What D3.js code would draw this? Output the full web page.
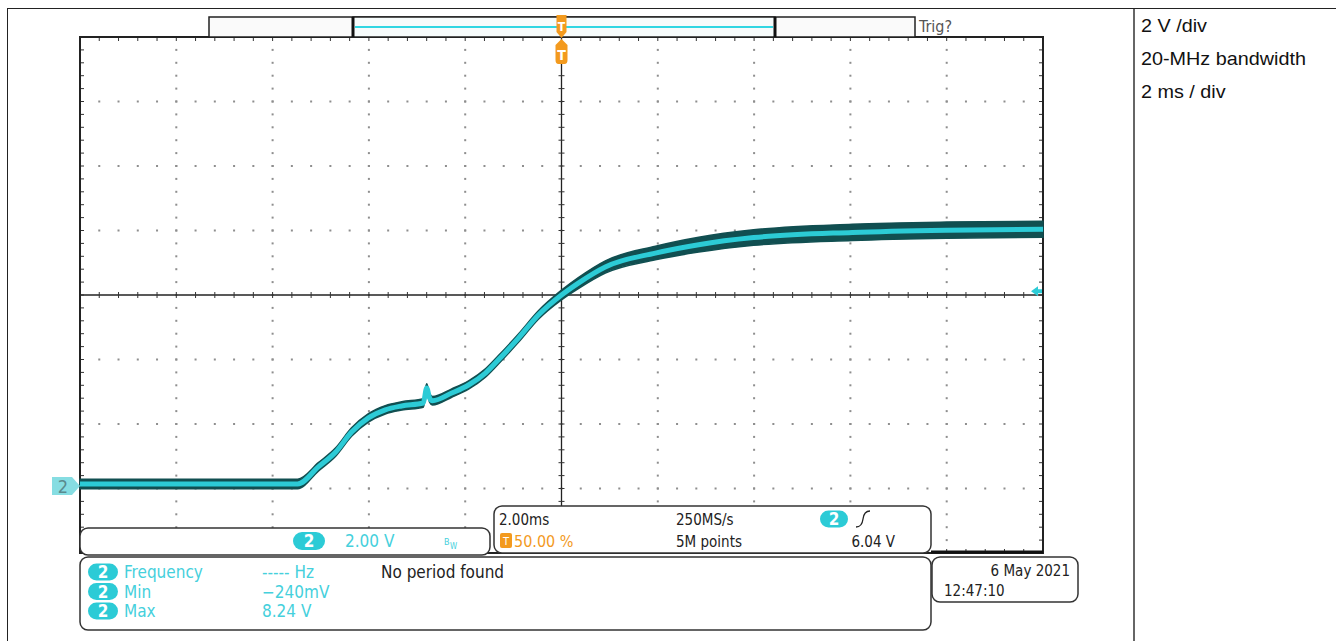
<!DOCTYPE html>
<html>
<head>
<meta charset="utf-8">
<script src="https://cdn.jsdelivr.net/npm/d3@7"></script>
<style>
  html, body { margin: 0; padding: 0; background: #fff; }
  svg { display: block; }
  .scope { font-family: "DejaVu Sans Condensed", "DejaVu Sans", sans-serif; }
  .note { font-family: "Liberation Sans", Arial, sans-serif; }
</style>
</head>
<body>
<svg id="chart" width="1336" height="641"></svg>
<script>
// ---- Captured waveform, channel 2 (time in ms relative to trigger, volts) ----
const timeMs = [-10.0, -8.0, -6.0, -5.48, -5.05, -4.69, -4.36, -4.01, -3.66, -3.32, -2.87,
                -2.80, -2.74, -2.68, -2.28, -1.93, -1.58, -1.31, -0.89, -0.48, 0.0, 0.35,
                0.91, 1.95, 2.85, 3.99, 6.04, 8.0, 10.0];
const volts  = [0.06, 0.06, 0.06, 0.06, 0.59, 1.05, 1.67, 2.11, 2.36, 2.48, 2.57,
                3.04, 2.73, 2.64, 2.88, 3.13, 3.50, 3.91, 4.59, 5.30, 5.92, 6.29,
                6.79, 7.22, 7.48, 7.70, 7.86, 7.93, 7.96];
// half-width of the noise envelope around the trace (V)
const noiseSpread = [0.15, 0.15, 0.15, 0.15, 0.13, 0.13, 0.13, 0.13, 0.13, 0.13, 0.13,
                     0.13, 0.13, 0.13, 0.13, 0.13, 0.13, 0.13, 0.13, 0.13, 0.15, 0.17,
                     0.19, 0.21, 0.23, 0.24, 0.25, 0.25, 0.25];

// ---- Display settings ----
const timeDomain = [-10, 10];          // 2 ms/div, 10 divisions
const voltDomain = [-2.08, 13.92];     // 2 V/div, 8 divisions, ground 2.96 div below centre
const triggerLevel = 6.04;

// ---- Readout texts ----
const settingsNotes = ["2 V /div", "20-MHz bandwidth", "2 ms / div"];
const measureNames  = ["Frequency", "Min", "Max"];
const measureValues = ["----- Hz", "\u2212240mV", "8.24 V"];
const measureStatus = ["No period found", "", ""];
const horizReadout  = ["2.00ms", "50.00 %"];
const acqReadout    = ["250MS/s", "5M points"];
const trigReadout   = ["6.04 V"];
const chanReadout   = ["2.00 V"];
const dateReadout   = ["6 May  2021", "12:47:10"];

const CYAN = "#2ccbd6", CYAN_TXT = "#45d0dc", DARK_TEAL = "#114f51", ORANGE = "#f39a1e";

const svg = d3.select("#chart");

// page frame and divider
svg.append("rect").attr("x", 7.5).attr("y", 8.5).attr("width", 1340).attr("height", 640)
  .attr("fill", "none").attr("stroke", "#222").attr("stroke-width", 1);
svg.append("line").attr("x1", 1134).attr("x2", 1134).attr("y1", 9).attr("y2", 641)
  .attr("stroke", "#666").attr("stroke-width", 2);

// notes on the right
svg.append("g").attr("class", "note").selectAll("text").data(settingsNotes).join("text")
  .attr("x", 1141).attr("y", (d, i) => 32 + i * 33)
  .attr("font-size", 18).attr("fill", "#111")
  .attr("transform", "translate(-114.1,0) scale(1.1,1)")
  .text(d => d);

// ---- Plot area ----
const L = 80, R = 1043, T = 37, B = 553;
const x = d3.scaleLinear().domain(timeDomain).range([L, R]);
const y = d3.scaleLinear().domain(voltDomain).range([B, T]);

const g = svg.append("g");

const majorT = d3.range(timeDomain[0], timeDomain[1] + 0.001, 2);
const minorT = d3.range(0, 51).map(i => timeDomain[0] + i * 0.4);
const majorV = d3.range(0, 9).map(i => voltDomain[0] + i * 2);
const minorV = d3.range(0, 41).map(i => voltDomain[0] + i * 0.4);
const centreT = 0, centreV = voltDomain[0] + 8;

// dotted graticule
majorT.slice(1, -1).filter(t => Math.abs(t - centreT) > 1e-6).forEach(t => {
  g.append("g").selectAll("rect").data(minorV.slice(1, -1)).join("rect")
    .attr("x", x(t) - 1).attr("y", v => y(v) - 1).attr("width", 2).attr("height", 2)
    .attr("fill", "#8e8e8e");
});
majorV.slice(1, -1).filter(v => Math.abs(v - centreV) > 1e-6).forEach(v => {
  g.append("g").selectAll("rect").data(minorT.slice(1, -1)).join("rect")
    .attr("x", t => x(t) - 1).attr("y", y(v) - 1).attr("width", 2).attr("height", 2)
    .attr("fill", "#8e8e8e");
});

// centre cross with minor ticks
g.append("line").attr("x1", L).attr("x2", R).attr("y1", y(centreV)).attr("y2", y(centreV))
  .attr("stroke", "#222").attr("stroke-width", 1.3);
g.append("line").attr("x1", x(centreT)).attr("x2", x(centreT)).attr("y1", T).attr("y2", B)
  .attr("stroke", "#222").attr("stroke-width", 1.3);
g.append("g").selectAll("line").data(minorT).join("line")
  .attr("x1", t => x(t)).attr("x2", t => x(t))
  .attr("y1", y(centreV) - 3).attr("y2", y(centreV) + 3)
  .attr("stroke", "#333").attr("stroke-width", 1);
g.append("g").selectAll("line").data(minorV).join("line")
  .attr("x1", x(centreT) - 3).attr("x2", x(centreT) + 3)
  .attr("y1", v => y(v)).attr("y2", v => y(v))
  .attr("stroke", "#333").attr("stroke-width", 1);

// border ticks
g.append("g").selectAll("line").data(minorT).join("line")
  .attr("x1", t => x(t)).attr("x2", t => x(t)).attr("y1", T).attr("y2", T + 4)
  .attr("stroke", "#333");
g.append("g").selectAll("line").data(minorT).join("line")
  .attr("x1", t => x(t)).attr("x2", t => x(t)).attr("y1", B - 4).attr("y2", B)
  .attr("stroke", "#333");
g.append("g").selectAll("line").data(minorV).join("line")
  .attr("x1", L).attr("x2", L + 4).attr("y1", v => y(v)).attr("y2", v => y(v))
  .attr("stroke", "#333");
g.append("g").selectAll("line").data(minorV).join("line")
  .attr("x1", R - 4).attr("x2", R).attr("y1", v => y(v)).attr("y2", v => y(v))
  .attr("stroke", "#333");

// graticule border
g.append("rect").attr("x", L).attr("y", T).attr("width", R - L).attr("height", B - T)
  .attr("fill", "none").attr("stroke", "#222").attr("stroke-width", 2);

// ---- Trace ----
const pts = timeMs.map((t, i) => ({ t, v: volts[i], s: noiseSpread[i] }));
const area = d3.area().x(d => x(d.t)).y0(d => y(d.v - d.s)).y1(d => y(d.v + d.s))
  .curve(d3.curveMonotoneX);
const line = d3.line().x(d => x(d.t)).y(d => y(d.v)).curve(d3.curveMonotoneX);
g.append("path").datum(pts).attr("d", area).attr("fill", DARK_TEAL)
  .attr("stroke", DARK_TEAL).attr("stroke-width", 1.5);
g.append("path").datum(pts).attr("d", line).attr("fill", "none")
  .attr("stroke", CYAN).attr("stroke-width", 5);

// ground marker "2" on the left
const gy = y(0);
svg.append("path")
  .attr("d", `M52,${gy - 9} L72,${gy - 9} L80,${gy} L72,${gy + 9} L52,${gy + 9} Z`)
  .attr("fill", "#86dde2");
svg.append("text").attr("class", "scope").attr("x", 63).attr("y", gy + 7)
  .attr("text-anchor", "middle").attr("font-size", 18).attr("fill", "#5a8a8e").text("2");

// trigger level arrow on the right
const ty = y(triggerLevel);
svg.append("path")
  .attr("d", `M1031,${ty} L1038,${ty - 5} L1038,${ty - 2} L1042,${ty - 2} L1042,${ty + 2} L1038,${ty + 2} L1038,${ty + 5} Z`)
  .attr("fill", CYAN);

// ---- Record view bar ----
svg.append("rect").attr("x", 209).attr("y", 17).attr("width", 706).attr("height", 20)
  .attr("fill", "#fafafa").attr("stroke", "#222").attr("stroke-width", 1.5);
svg.append("rect").attr("x", 353).attr("y", 17).attr("width", 422).attr("height", 20)
  .attr("fill", "#f6fbfb").attr("stroke", "#222").attr("stroke-width", 1.5);
svg.append("line").attr("x1", 353).attr("x2", 353).attr("y1", 17).attr("y2", 37)
  .attr("stroke", "#111").attr("stroke-width", 3);
svg.append("line").attr("x1", 775).attr("x2", 775).attr("y1", 17).attr("y2", 37)
  .attr("stroke", "#111").attr("stroke-width", 3);
svg.append("line").attr("x1", 355).attr("x2", 773).attr("y1", 27).attr("y2", 27)
  .attr("stroke", "#30d6e2").attr("stroke-width", 2);
svg.append("text").attr("class", "scope").attr("x", 919).attr("y", 32)
  .attr("font-size", 16).attr("fill", "#555").text("Trig?");

// trigger position markers
const tx = x(0);
svg.append("path")
  .attr("d", `M${tx - 5},15 L${tx + 5},15 L${tx + 5},32 L${tx},38 L${tx - 5},32 Z`)
  .attr("fill", ORANGE);
svg.append("text").attr("class", "scope").attr("x", tx).attr("y", 31)
  .attr("text-anchor", "middle").attr("font-size", 12).attr("font-weight", "bold")
  .attr("fill", "#fff").text("T");
svg.append("path")
  .attr("d", `M${tx - 6},45 L${tx},39 L${tx + 6},45 L${tx + 6},60 Q${tx + 6},64 ${tx + 3},64 L${tx - 3},64 Q${tx - 6},64 ${tx - 6},60 Z`)
  .attr("fill", ORANGE);
svg.append("text").attr("class", "scope").attr("x", tx).attr("y", 60)
  .attr("text-anchor", "middle").attr("font-size", 14).attr("font-weight", "bold")
  .attr("fill", "#fff").text("T");

// ---- Readout panels ----
function panel(x0, y0, w, h) {
  svg.append("rect").attr("x", x0).attr("y", y0).attr("width", w).attr("height", h)
    .attr("rx", 8).attr("fill", "#fff").attr("stroke", "#333").attr("stroke-width", 1.5);
}
function badge(cx, cy, w, h) {
  svg.append("rect").attr("x", cx - w / 2).attr("y", cy - h / 2).attr("width", w).attr("height", h)
    .attr("rx", h / 2).attr("fill", CYAN);
  svg.append("text").attr("class", "scope").attr("x", cx).attr("y", cy + 6)
    .attr("text-anchor", "middle").attr("font-size", 17).attr("font-weight", "bold")
    .attr("fill", "#fff").text("2");
}
function txt(x0, y0, s, color, size, anchor) {
  svg.append("text").attr("class", "scope").attr("x", x0).attr("y", y0)
    .attr("font-size", size || 15).attr("fill", color).attr("text-anchor", anchor || "start").text(s);
}

// thick bottom edge right of the timebase panel
svg.append("line").attr("x1", 931).attr("x2", R).attr("y1", B - 1).attr("y2", B - 1)
  .attr("stroke", "#111").attr("stroke-width", 3);

// channel panel
panel(80, 528, 410, 27);
badge(309, 541, 32, 18);
txt(345, 547, chanReadout[0], CYAN_TXT, 17);
txt(444, 545, "B", CYAN_TXT, 9);
txt(450, 549, "W", CYAN_TXT, 8);

// horizontal / acquisition / trigger panel
panel(494, 506, 437, 47);
txt(499, 525, horizReadout[0], "#222", 15);
svg.append("rect").attr("x", 500).attr("y", 533).attr("width", 12).attr("height", 15)
  .attr("rx", 2).attr("fill", ORANGE);
txt(506, 545, "T", "#fff", 11, "middle");
txt(514, 547, horizReadout[1], ORANGE, 16);
txt(676, 525, acqReadout[0], "#222", 15);
txt(676, 547, acqReadout[1], "#222", 15);
badge(834, 519, 28, 17);
svg.append("path").attr("d", "M856,527 Q862,527 863,519 Q864,511 870,511")
  .attr("fill", "none").attr("stroke", "#222").attr("stroke-width", 1.3);
txt(895, 547, trigReadout[0], "#222", 15, "end");

// measurements panel
panel(80, 557, 851, 73);
measureNames.forEach((name, i) => {
  const cy = 572 + i * 19.5;
  badge(103, cy, 30, 17);
  txt(124, cy + 6, name, CYAN_TXT, 17);
  txt(262, cy + 6, measureValues[i], CYAN_TXT, 17);
  if (measureStatus[i]) txt(381, cy + 6, measureStatus[i], "#222", 17);
});

// date panel
panel(932, 557, 146, 45);
txt(1070, 576, dateReadout[0], "#222", 15, "end");
txt(944, 596, dateReadout[1], "#222", 15);
</script>
</body>
</html>
